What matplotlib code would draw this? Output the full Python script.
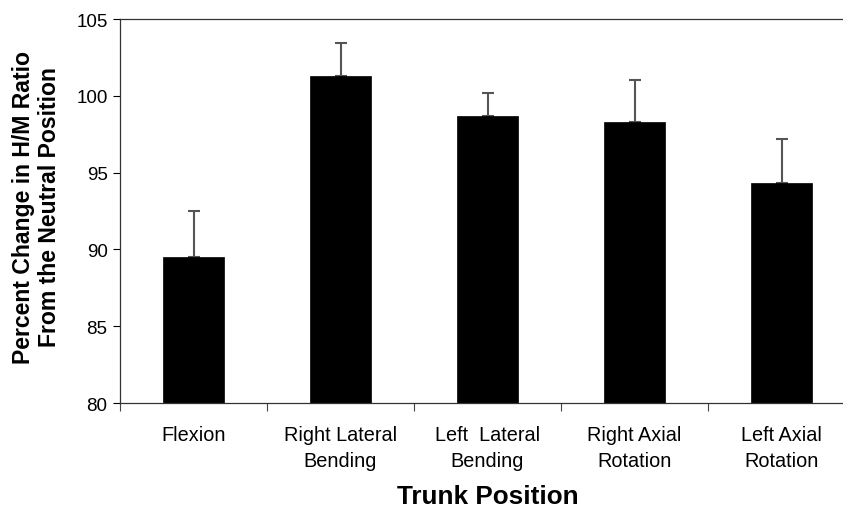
import matplotlib
matplotlib.use("Agg")
import matplotlib.pyplot as plt
import numpy as np

plt.rcParams['font.family'] = ['Liberation Sans', 'DejaVu Sans']

categories = ["Flexion", "Right Lateral\nBending", "Left  Lateral\nBending",
              "Right Axial\nRotation", "Left Axial\nRotation"]
means = [89.5, 101.3, 98.7, 98.3, 94.35]
upper_err = [3.0, 2.15, 1.45, 2.75, 2.85]
y_ticks = [80, 85, 90, 95, 100, 105]

W, H = 843, 510
fig = plt.figure(figsize=(W / 100, H / 100), dpi=100)
ax = fig.add_axes([120 / W, (H - 404) / H, (855 - 120) / W, (404 - 20) / H])

x = np.arange(len(categories))
ax.bar(x, means, width=0.41, color='black', edgecolor='black', linewidth=0.5, zorder=2)
ax.errorbar(x, means, yerr=[np.zeros(len(means)), upper_err], fmt='none',
            ecolor='#555555', elinewidth=1.5, capsize=4, capthick=1.5, zorder=1)

ax.set_xlim(-0.5, len(categories) - 0.5)
ax.set_ylim(80, 105)
ax.set_yticks(y_ticks)
ax.set_yticklabels([str(v) for v in y_ticks], fontsize=13.5)

# boundary ticks between categories, labels centred under each bar
ax.set_xticks(np.arange(len(categories) + 1) - 0.5)
ax.set_xticklabels([])
ax.set_xticks(x, minor=True)
ax.set_xticklabels(categories, minor=True, fontsize=14.3, linespacing=1.45)
ax.tick_params(axis='x', which='minor', length=0, pad=16)
ax.tick_params(axis='x', which='major', length=6, width=0.8, color='#444444', direction='out')
ax.tick_params(axis='y', length=5, width=0.8, direction='out', pad=4)

for side in ['top', 'bottom', 'left']:
    ax.spines[side].set_linewidth(0.9)
    ax.spines[side].set_color('#333333')
ax.spines['right'].set_visible(False)

ylabel_lines = ["Percent Change in H/M Ratio", "From the Neutral Position"]
for xpos, line in zip([30, 56], ylabel_lines):
    fig.text(xpos / W, 1 - 207 / H, line, rotation=90, rotation_mode='anchor',
             ha='center', va='baseline', fontsize=16.6, fontweight='bold')
fig.text(488 / W, 1 - 504 / H, "Trunk Position", ha='center', va='baseline',
         fontsize=18.8, fontweight='bold')

fig.savefig("out.png", dpi=100)
